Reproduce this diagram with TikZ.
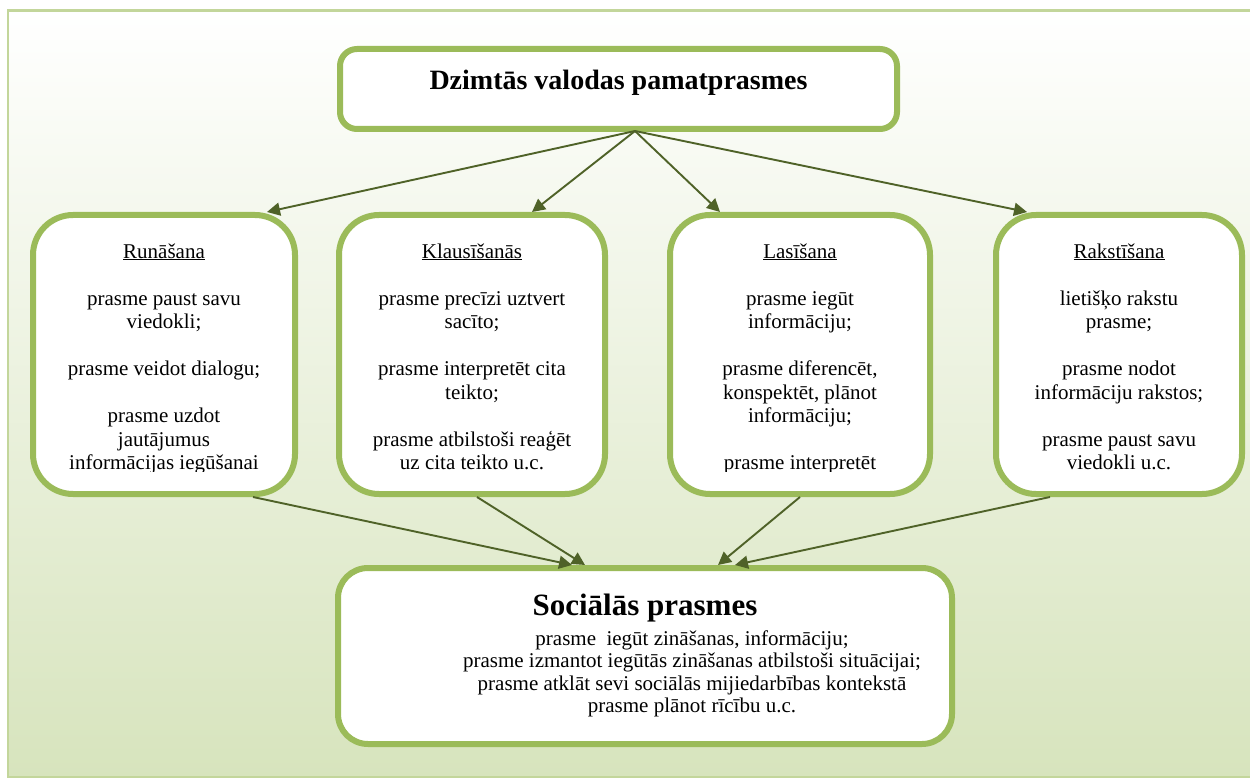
\documentclass[tikz,border=0pt]{standalone}
\usepackage{fontspec}
\setmainfont{Liberation Serif}
\usetikzlibrary{arrows.meta,calc}
\definecolor{boxgreen}{HTML}{9BBB59}
\definecolor{arrowgreen}{HTML}{4F6228}
\definecolor{framegreen}{HTML}{C3D69B}
\definecolor{bgbottom}{HTML}{D7E4BD}

\begin{document}
\begin{tikzpicture}[x=1pt,y=-1pt,
  box/.style={draw=boxgreen, line width=6pt, fill=white, rounded corners=#1, inner sep=0pt},
  box/.default=40pt,
  conn/.style={draw=arrowgreen, line width=1.9pt, -{Triangle[length=13pt,width=13pt]}},
  body/.style={align=center, font=\fontsize{21}{23.5}\selectfont, inner sep=0pt, anchor=base},
]
% page and shaded frame
\fill[white] (0,0) rectangle (1250,778);
\useasboundingbox (0,0) rectangle (1250,778);
\begin{scope}
\clip (0,0) rectangle (1250,778);
\shade[top color=white, bottom color=bgbottom] (8,10.5) rectangle (1300,777);
\draw[framegreen, line width=2.5pt] (8,10.5) rectangle (1300,777);
\end{scope}

% boxes
\node[box=17pt, minimum width=557pt, minimum height=80pt] (top) at (618.5,89) {};
\node[box, minimum width=262pt, minimum height=279pt] (run) at (164,354.5) {};
\node[box, minimum width=266pt, minimum height=279pt] (kla) at (472,354.5) {};
\node[box, minimum width=260pt, minimum height=279pt] (las) at (800,354.5) {};
\node[box, minimum width=246pt, minimum height=279pt] (rak) at (1119,354.5) {};
\node[box=30pt, minimum width=614pt, minimum height=176pt] (soc) at (645,656) {};

% headings (multi-line texts are placed by the baseline of their last line)
\node[font=\fontsize{28}{34}\selectfont\bfseries, anchor=base, inner sep=0pt] (top-t) at (618.5,90) {Dzimtās valodas pamatprasmes};
\node[font=\fontsize{31}{36}\selectfont\bfseries, anchor=base, inner sep=0pt] (soc-t) at (645,615) {Sociālās prasmes};
\node[body, font=\fontsize{21}{22.5}\selectfont] (soc-b) at (692,712.5) {prasme~ iegūt zināšanas, informāciju;\\
prasme izmantot iegūtās zināšanas atbilstoši situācijai;\\
prasme atklāt sevi sociālās mijiedarbības kontekstā\\
prasme plānot rīcību u.c.};

% skill texts, cut off at the lower edge of the text area
\begin{scope}
\clip (0,200) rectangle (1250,471);
\node[body] (run-t) at (164,469.5) {\underline{Runāšana}\\[23.5pt]
prasme paust savu\\ viedokli;\\[23.5pt]
prasme veidot dialogu;\\[23.5pt]
prasme uzdot\\ jautājumus\\ informācijas iegūšanai};
\node[body] (kla-t) at (472,469.5) {\underline{Klausīšanās}\\[23.5pt]
prasme precīzi uztvert\\ sacīto;\\[23.5pt]
prasme interpretēt cita\\ teikto;\\[23.5pt]
prasme atbilstoši reaģēt\\ uz cita teikto u.c.};
\node[body] (las-t) at (800,469.5) {\underline{Lasīšana}\\[23.5pt]
prasme iegūt\\ informāciju;\\[23.5pt]
prasme diferencēt,\\ konspektēt, plānot\\ informāciju;\\[23.5pt]
prasme interpretēt};
\node[body] (rak-t) at (1119,469.5) {\underline{Rakstīšana}\\[23.5pt]
lietišķo rakstu\\ prasme;\\[23.5pt]
prasme nodot\\ informāciju rakstos;\\[23.5pt]
prasme paust savu\\ viedokli u.c.};
\end{scope}

% connectors
\coordinate (hub) at (635,131);
\draw[conn] (hub) -- ([xshift=103pt]run.north);
\draw[conn] (hub) -- ([xshift=60pt]kla.north);
\draw[conn] (hub) -- ([xshift=-80pt]las.north);
\draw[conn] (hub) -- ([xshift=-92pt]rak.north);

\draw[conn] ([xshift=89pt]run.south) -- ([xshift=-73pt]soc.north);
\draw[conn] ([xshift=5pt]kla.south) -- ([xshift=-60pt]soc.north);
\draw[conn] (las.south) -- ([xshift=73pt]soc.north);
\draw[conn] ([xshift=-69pt]rak.south) -- ([xshift=90pt]soc.north);
\end{tikzpicture}
\end{document}
